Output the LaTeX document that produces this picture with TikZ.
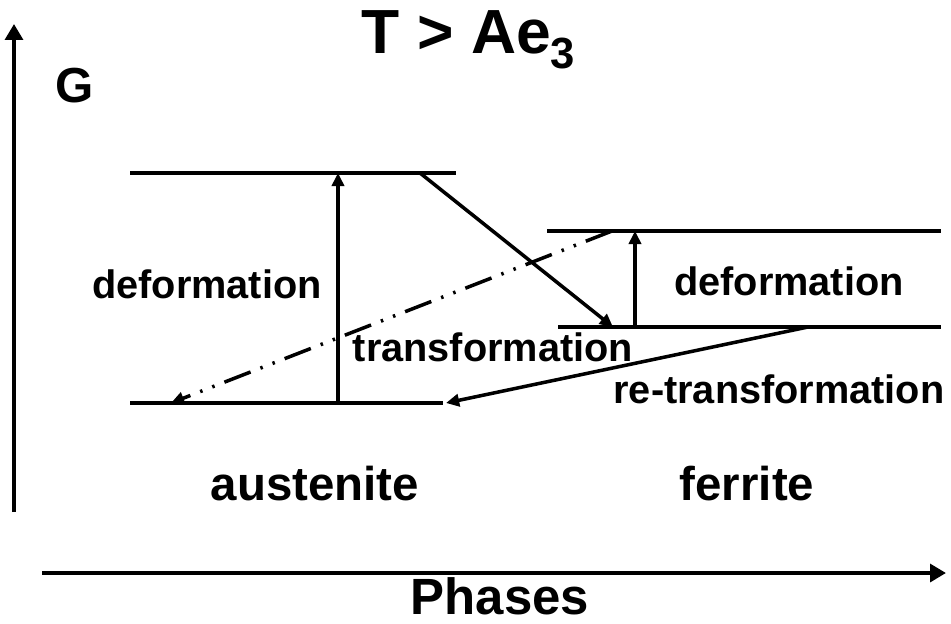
\documentclass[tikz,border=0pt]{standalone}
\usepackage{fontspec}
\setmainfont{Liberation Sans}
\usetikzlibrary{arrows.meta}

\begin{document}
\begin{tikzpicture}[x=0.02cm,y=-0.02cm,
    level/.style={line width=2.4pt},
    axis/.style={line width=2.8pt,-{Triangle[length=9pt,width=10pt]}},
    path/.style={line width=2pt,-{Triangle[length=7.5pt,width=7pt]}},
    label/.style={font=\bfseries\fontsize{22.6}{26}\selectfont,inner sep=0pt},
    phase/.style={font=\bfseries\fontsize{27}{31}\selectfont,inner sep=0pt}]
    \useasboundingbox (0,0) rectangle (951,623);
    % axes
    \coordinate (yo) at (14,512);
    \coordinate (yt) at (14,24);
    \coordinate (xo) at (42,573);
    \coordinate (xt) at (946,573);
    \draw[axis] (yo) -- (yt);
    \draw[axis] (xo) -- (xt);
    \node[inner sep=0pt,font=\bfseries\fontsize{28}{32}\selectfont] (g) at (75,86) {G};
    \node[inner sep=0pt,font=\bfseries\fontsize{35.5}{40}\selectfont] (title) at (469,40) {T > Ae$_\mathbf{3}$};
    \node[inner sep=0pt,font=\bfseries\fontsize{29}{34}\selectfont] (phases) at (500,596) {Phases};
    % energy levels
    \coordinate (a1) at (130,173); \coordinate (a2) at (456,173);
    \coordinate (b1) at (130,403); \coordinate (b2) at (443,403);
    \coordinate (c1) at (547,231); \coordinate (c2) at (941,231);
    \coordinate (d1) at (558,327); \coordinate (d2) at (941,327);
    \draw[level] (a1) -- (a2);
    \draw[level] (b1) -- (b2);
    \draw[level] (c1) -- (c2);
    \draw[level] (d1) -- (d2);
    % transitions
    \coordinate (p1) at (338,403); \coordinate (p2) at (338,173);
    \coordinate (q1) at (635,327); \coordinate (q2) at (635,231);
    \coordinate (t1) at (420,173); \coordinate (t2) at (613,327);
    \coordinate (r1) at (808,327); \coordinate (r2) at (446,403);
    \coordinate (s1) at (612,231); \coordinate (s2) at (171,403);
    \draw[path] (p1) -- (p2);
    \draw[path] (q1) -- (q2);
    \draw[path] (t1) -- (t2);
    \draw[path] (r1) -- (r2);
    \draw[path,dash pattern=on 16pt off 6pt on 1.4pt off 6pt on 1.4pt off 6pt] (s1) -- (s2);
    % labels
    \node[label] (defa) at (207,284) {deformation};
    \node[label] (defb) at (789,281) {deformation};
    \node[label] (trans) at (493,347) {transformation};
    \node[label] (retrans) at (779,389) {re-transformation};
    \node[phase] (aus) at (315,484) {austenite};
    \node[phase] (fer) at (747,484) {ferrite};
\end{tikzpicture}
\end{document}
